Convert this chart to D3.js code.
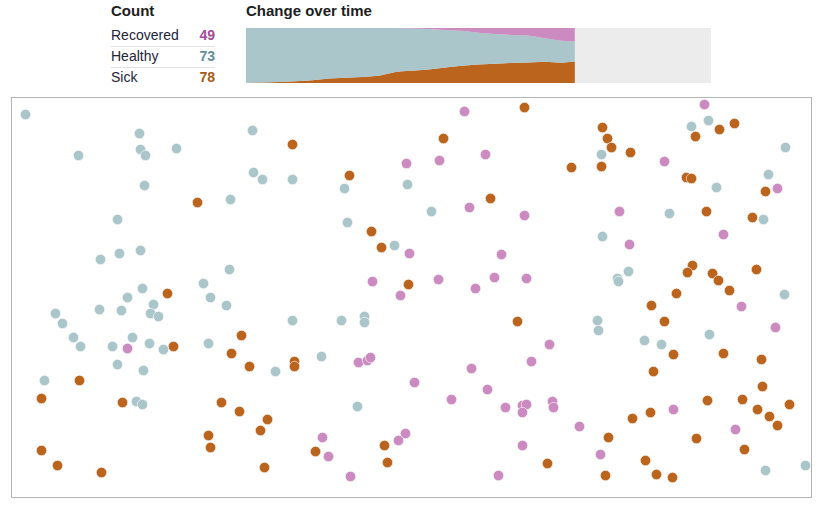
<!DOCTYPE html>
<html>
<head>
<meta charset="utf-8">
<script src="https://cdn.jsdelivr.net/npm/d3@7"></script>
<style>
  body { margin: 0; background: #fff; font-family: "Liberation Sans", Arial, sans-serif; }
</style>
</head>
<body>
<div id="chart"></div>
<script>
    // Legend rows
    const groups = ["Recovered", "Healthy", "Sick"];
    const groupCounts = [49, 73, 78];

    // Change over time (people out of 200)
    const days = [0, 5, 10, 15, 20, 25, 30, 35, 40, 45, 47, 50, 55, 60, 65, 70, 75, 80, 85, 90, 95, 99];
    const sickOverTime = [1, 2, 4, 6, 10, 16, 19, 22, 26, 40, 43, 45, 49, 56, 63, 67, 70, 73, 75, 77, 74, 78];
    const recoveredOverTime = [0, 0, 0, 0, 0, 0, 0, 0, 0, 0, 1, 2, 4, 7, 10, 17, 22, 25, 27, 37, 46, 49];
    const totalPeople = 200;
    const totalDays = 140;

    // Dot positions in the simulation space (0-801 x 0-401)
    const healthyDots = [
        [14,17],[128,36],[67,58],[129,52],[134,58],[165,51],[133,88],[106,122],[89,162],[108,156],
        [129,153],[131,191],[192,186],[199,200],[116,200],[44,216],[88,212],[110,213],[142,207],[139,216],
        [147,219],[51,226],[62,240],[69,249],[101,249],[121,240],[138,246],[152,252],[197,246],[106,267],
        [132,273],[33,283],[125,304],[131,307],[241,33],[242,75],[251,82],[281,82],[219,102],[333,91],
        [396,87],[336,125],[383,148],[218,172],[215,208],[281,223],[330,223],[353,219],[353,225],[264,274],
        [310,259],[346,309],[590,57],[420,114],[591,139],[697,23],[680,29],[774,50],[705,90],[757,77],
        [658,116],[752,122],[617,174],[606,181],[607,184],[773,197],[586,223],[587,233],[633,243],[650,247],
        [698,237],[754,373],[794,368]
    ];
    const sickDots = [
        [186,105],[156,196],[162,249],[68,283],[30,301],[111,305],[197,338],[199,350],[30,353],[46,368],
        [90,375],[281,47],[338,78],[360,134],[370,150],[397,187],[230,238],[220,256],[238,269],[283,264],
        [283,269],[210,305],[228,314],[256,322],[249,333],[373,348],[304,354],[376,365],[253,370],[513,10],
        [432,41],[591,30],[596,41],[600,50],[590,69],[560,70],[479,101],[708,32],[723,26],[684,39],
        [619,55],[675,80],[680,81],[754,94],[695,114],[741,120],[681,168],[676,175],[701,176],[707,183],
        [745,172],[718,193],[665,196],[506,224],[597,340],[536,366],[594,378],[640,208],[653,224],[662,257],
        [712,256],[750,262],[642,274],[751,289],[696,303],[731,302],[746,312],[778,307],[621,321],[639,315],
        [758,319],[766,328],[685,341],[733,352],[634,363],[645,377],[661,380]
    ];
    const recoveredDots = [
        [116,251],[395,66],[398,156],[361,184],[389,198],[347,265],[356,263],[359,260],[403,285],[311,340],
        [394,336],[387,343],[317,359],[339,379],[453,14],[428,63],[474,57],[458,110],[513,118],[490,157],
        [427,182],[464,191],[483,180],[515,181],[693,7],[653,64],[766,91],[608,114],[712,137],[618,147],
        [538,247],[520,264],[460,271],[476,292],[440,302],[494,310],[511,308],[515,307],[511,315],[541,304],
        [542,310],[568,329],[511,348],[589,357],[487,378],[730,209],[764,230],[662,312],[724,332]
    ];

    const colors = { Recovered: "#cb8ac0", Healthy: "#abc6ca", Sick: "#bb641e" };
    const numberColors = { Recovered: "#a24b96", Healthy: "#5f8f98", Sick: "#a85a17" };

    const width = 822;
    const height = 509;
    const svg = d3.select("#chart")
        .append("svg")
        .attr("width", width)
        .attr("height", height);

    // ---- Count legend ----
    svg.append("text")
        .attr("x", 111)
        .attr("y", 16)
        .attr("font-size", 15)
        .attr("font-weight", "bold")
        .attr("fill", "#1d1d1d")
        .text("Count");

    const rowY = d3.scaleBand().domain(groups).range([25, 88]);

    const rows = svg.append("g").selectAll("g")
        .data(groups)
        .enter()
        .append("g")
        .attr("transform", d => `translate(0,${rowY(d)})`);

    rows.append("text")
        .attr("x", 111)
        .attr("y", 15)
        .attr("font-size", 14)
        .attr("fill", "#22253a")
        .text(d => d);

    rows.append("text")
        .attr("x", 215)
        .attr("y", 15)
        .attr("text-anchor", "end")
        .attr("font-size", 14)
        .attr("font-weight", "bold")
        .attr("fill", d => numberColors[d])
        .text((d, i) => groupCounts[i]);

    rows.filter((d, i) => i > 0)
        .append("line")
        .attr("x1", 111)
        .attr("x2", 215)
        .attr("y1", 0.5)
        .attr("y2", 0.5)
        .attr("stroke", "#e3e3e3");

    // ---- Change over time ----
    svg.append("text")
        .attr("x", 246)
        .attr("y", 16)
        .attr("font-size", 15)
        .attr("font-weight", "bold")
        .attr("fill", "#1d1d1d")
        .text("Change over time");

    const tx = d3.scaleLinear().domain([0, totalDays]).range([246, 711]);
    const ty = d3.scaleLinear().domain([0, totalPeople]).range([83, 28]);

    svg.append("rect")
        .attr("x", tx(0))
        .attr("y", ty(totalPeople))
        .attr("width", tx(totalDays) - tx(0))
        .attr("height", ty(0) - ty(totalPeople))
        .attr("fill", "#ececec");

    const table = days.map((d, i) => ({
        day: d,
        Sick: sickOverTime[i],
        Healthy: totalPeople - sickOverTime[i] - recoveredOverTime[i],
        Recovered: recoveredOverTime[i]
    }));
    const stacked = d3.stack().keys(["Sick", "Healthy", "Recovered"])(table);

    const area = d3.area()
        .x(d => tx(d.data.day))
        .y0(d => ty(d[0]))
        .y1(d => ty(d[1]));

    svg.append("g").selectAll("path")
        .data(stacked)
        .enter()
        .append("path")
        .attr("fill", d => colors[d.key])
        .attr("d", area);

    // ---- Dots ----
    const x = d3.scaleLinear().domain([0, 801]).range([11.5, 812.5]);
    const y = d3.scaleLinear().domain([0, 401]).range([97.5, 498.5]);

    svg.append("rect")
        .attr("x", 11.5)
        .attr("y", 97.5)
        .attr("width", 800)
        .attr("height", 400)
        .attr("fill", "none")
        .attr("stroke", "#b3b3b3");

    const dots = [
        { key: "Healthy", pts: healthyDots },
        { key: "Sick", pts: sickDots },
        { key: "Recovered", pts: recoveredDots }
    ];

    dots.forEach(group => {
        svg.append("g").selectAll("circle")
            .data(group.pts)
            .enter()
            .append("circle")
            .attr("cx", d => x(d[0]))
            .attr("cy", d => y(d[1]))
            .attr("r", 5.2)
            .attr("fill", colors[group.key])
            .attr("stroke", "#fff")
            .attr("stroke-width", 0.6);
    });
</script>
</body>
</html>
